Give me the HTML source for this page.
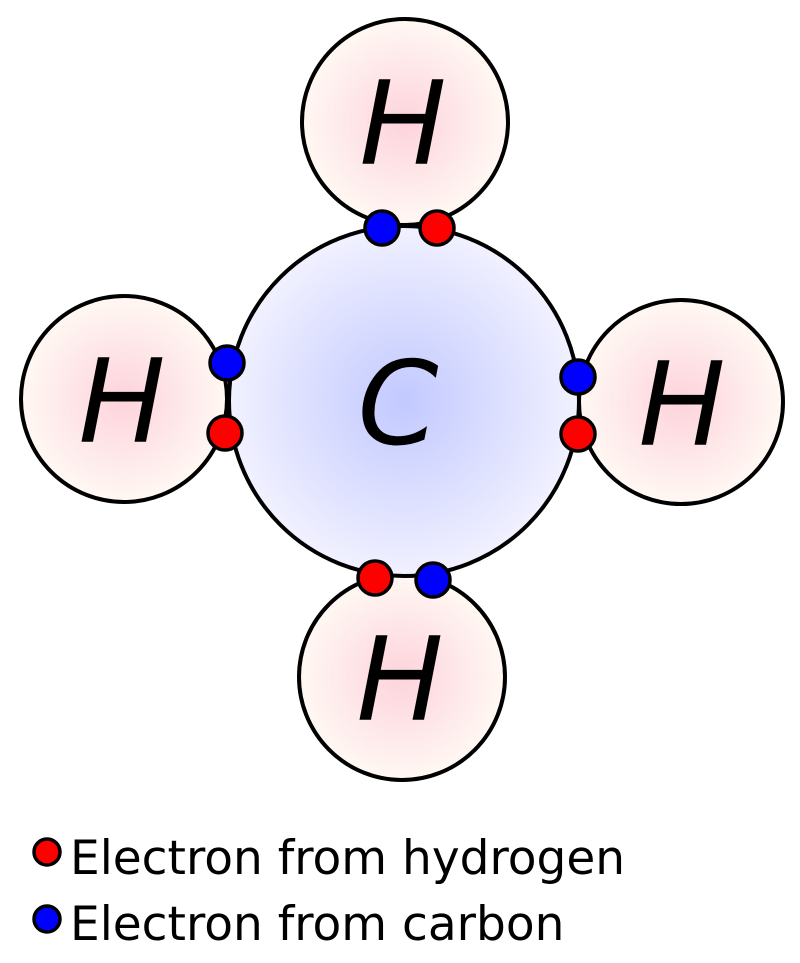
<!DOCTYPE html>
<html><head><meta charset="utf-8"><style>
html,body{margin:0;padding:0;background:#fff;width:800px;height:963px;overflow:hidden}
</style></head><body>
<svg width="800" height="963" viewBox="0 0 800 963" xmlns="http://www.w3.org/2000/svg">
<defs>
<radialGradient id="h" cx="50%" cy="50%" r="50%">
<stop offset="0" stop-color="#fdd3dc"/><stop offset="1" stop-color="#fff8f3"/>
</radialGradient>
<radialGradient id="c" cx="50%" cy="50%" r="50%">
<stop offset="0" stop-color="#c2c9ff"/><stop offset="1" stop-color="#f1f1ff"/>
</radialGradient>
</defs>
<g stroke="#000" stroke-width="4">
<circle cx="405" cy="122" r="103" fill="url(#h)"/>
<circle cx="124" cy="399" r="103" fill="url(#h)"/>
<circle cx="681" cy="402" r="102" fill="url(#h)"/>
<circle cx="402" cy="677" r="103" fill="url(#h)"/>
<circle cx="404" cy="401" r="175" fill="url(#c)"/>
</g>
<g font-family="DejaVu Sans, Liberation Sans, sans-serif" font-style="italic" font-size="116" text-anchor="middle" fill="#000">
<text x="403" y="164">H</text>
<text x="122" y="442">H</text>
<text x="682" y="445">H</text>
<text x="400" y="720">H</text>
<text x="398" y="444">C</text>
</g>
<g stroke="#000" stroke-width="3.5">
<circle cx="382" cy="228" r="17" fill="#00f"/>
<circle cx="437" cy="228" r="17" fill="#f00"/>
<circle cx="227" cy="363" r="17" fill="#00f"/>
<circle cx="225" cy="433" r="17" fill="#f00"/>
<circle cx="578" cy="377" r="17" fill="#00f"/>
<circle cx="578" cy="434" r="17" fill="#f00"/>
<circle cx="375" cy="578" r="17" fill="#f00"/>
<circle cx="433" cy="580" r="17" fill="#00f"/>
<circle cx="47" cy="852" r="13" fill="#f00"/>
<circle cx="47" cy="919" r="13" fill="#00f"/>
</g>
<g font-family="DejaVu Sans, Liberation Sans, sans-serif" font-size="47" fill="#000">
<text x="70" y="874">Electron from hydrogen</text>
<text x="70" y="940">Electron from carbon</text>
</g>
</svg>
</body></html>
